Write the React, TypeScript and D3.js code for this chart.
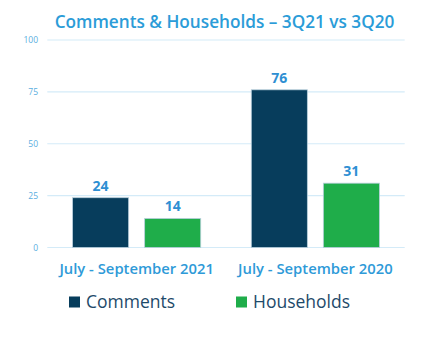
import React from "react";
import * as d3 from "d3";

const categories = ["July - September 2021", "July - September 2020"];
const seriesNames = ["Comments", "Households"];
const commentsValues = [24, 76];
const householdsValues = [14, 31];
const yTicks = [0, 25, 50, 75, 100];
const colors = ["#073d5c", "#1fad4a"];

export default function App() {
  const W = 429, H = 342;
  const left = 47.3, right = 404.7, top = 40, bottom = 247.5;
  const x0 = d3.scaleBand<string>().domain(categories).range([left, right]).paddingInner(0.283).paddingOuter(0.1415);
  const x1 = d3.scaleBand<string>().domain(seriesNames).range([0, x0.bandwidth()]).paddingInner(0.222);
  const y = d3.scaleLinear().domain([0, 100]).range([bottom, top]);
  const series = [commentsValues, householdsValues];
  const font = "'Open Sans', sans-serif";
  return (
    <svg width={W} height={H} style={{ position: "absolute", left: 0, top: 0, background: "#fff" }}>
      <text x={224.5} y={28} textAnchor="middle" fontFamily={font} fontWeight={600} fontSize={17.2} fill="#2b9cd8">
        Comments &amp; Households – 3Q21 vs 3Q20
      </text>
      {yTicks.map((t) => (
        <g key={t}>
          <line x1={left} x2={right} y1={y(t)} y2={y(t)} stroke="#d4ebf8" strokeWidth={1.2} />
          <text x={38} y={y(t) + 3} textAnchor="end" fontFamily={font} fontSize={8.5} fill="#5aaee0">
            {t}
          </text>
        </g>
      ))}
      {categories.map((c, i) => (
        <g key={c} transform={`translate(${x0(c)},0)`}>
          {seriesNames.map((s, j) => {
            const v = series[j][i];
            const bx = x1(s)!;
            return (
              <g key={s}>
                <rect x={bx} y={y(v)} width={x1.bandwidth()} height={bottom - y(v)} fill={colors[j]} stroke="#b8cfdc" strokeWidth={0.8} />
                <text x={bx + x1.bandwidth() / 2} y={y(v) - 7} textAnchor="middle" fontFamily={font} fontWeight={700} fontSize={14} fill="#2e8fd3">
                  {v}
                </text>
              </g>
            );
          })}
          <text x={x0.bandwidth() / 2} y={274} textAnchor="middle" fontFamily={font} fontWeight={600} fontSize={14.8} fill="#2e9ad8">
            {c}
          </text>
        </g>
      ))}
      {seriesNames.map((s, j) => (
        <g key={s} transform={`translate(${j === 0 ? 69 : 236},0)`}>
          <rect x={0} y={296.5} width={11} height={11} fill={colors[j]} />
          <text x={17} y={308} fontFamily={font} fontSize={17.5} fill="#1e4a6a">
            {s}
          </text>
        </g>
      ))}
    </svg>
  );
}
